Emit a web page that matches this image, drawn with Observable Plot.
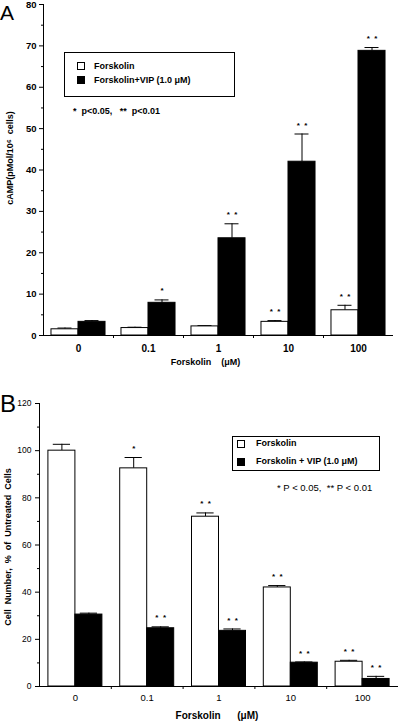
<!DOCTYPE html>
<html><head><meta charset="utf-8">
<script src="https://cdn.jsdelivr.net/npm/d3@7"></script>
<script src="https://cdn.jsdelivr.net/npm/@observablehq/plot@0.6"></script>
<style>
html,body{margin:0;padding:0;background:#fff;}
#wrap{position:relative;width:400px;height:723px;overflow:hidden;font-family:"Liberation Sans",Arial,sans-serif;}
#wrap svg{position:absolute;left:0;background:transparent;}
.abs{position:absolute;white-space:pre;color:#000;line-height:1;}
.box{position:absolute;border:1px solid #000;box-sizing:border-box;background:#fff;}
.sq{position:absolute;width:8px;height:8px;box-sizing:border-box;border:1px solid #000;}
g[aria-label="x-tick-labels-a"] text{letter-spacing:3px;}
</style></head><body><div id="wrap"></div>
<script>
// ---- data ----
const concLabels = ["0", "0.1", "1", "10", "100"];
const legendA = ["Forskolin", "Forskolin+VIP (1.0 μM)"];
const legendB = ["Forskolin", "Forskolin + VIP (1.0 μM)"];
const campForskolin = [1.5, 1.8, 2.2, 3.3, 6.1];
const campForskolinSem = [0.3, 0.2, 0.2, 0.3, 1.2];
const campVip = [3.3, 7.9, 23.5, 42.0, 68.8];
const campVipSem = [0.3, 0.7, 3.5, 6.7, 0.8];
const campForskolinStars = ["", "", "", "**", "**"];
const campVipStars = ["", "*", "**", "**", "**"];
const cellForskolin = [100, 92.5, 72, 42, 10.5];
const cellForskolinSem = [2.7, 4.6, 1.6, 0.8, 0.6];
const cellVip = [30.5, 24.7, 23.6, 10.1, 3.2];
const cellVipSem = [0.6, 0.6, 0.8, 0.3, 1.1];
const cellForskolinStars = ["", "*", "**", "**", "**"];
const cellVipStars = ["", "**", "**", "**", "**"];
const campTicks = [0, 10, 20, 30, 40, 50, 60, 70, 80];
const campMinorTicks = [5, 15, 25, 35, 45, 55, 65, 75];
const cellTicks = [0, 20, 40, 60, 80, 100, 120];
const cellMinorTicks = [10, 30, 50, 70, 90, 110];
const titleA = "cAMP(pMol/10⁶  cells)";
const titleB = "Cell  Number,  %  of  Untreated  Cells";
const xTitleA = "Forskolin    (μM)";
const xTitleB = "Forskolin      (μM)";
const noteA = "*  p<0.05,   **  p<0.01";
const noteB = "* P < 0.05,  ** P < 0.01";

function makeRows(f, fs, fst, v, vs, vst) {
  const out = [];
  concLabels.forEach((c, i) => {
    out.push({i, side: 0, value: f[i], sem: fs[i], stars: fst[i]});
    out.push({i, side: 1, value: v[i], sem: vs[i], stars: vst[i]});
  });
  return out;
}

function panel(o) {
  const rows = o.rows;
  const bw = o.barW;
  const cx = d => d.side ? d.i + bw / 2 : d.i - bw / 2;
  const top = d => d.value + d.sem;
  return Plot.plot({
    width: 400, height: o.height,
    marginLeft: o.ml, marginRight: o.mr, marginTop: o.mt, marginBottom: o.mb,
    style: {fontFamily: '"Liberation Sans", Arial, sans-serif', background: "transparent", overflow: "visible"},
    x: {domain: [-0.5, 4.5]},
    y: {domain: o.yDomain},
    marks: [
      Plot.ruleX([-0.5], {y1: o.yDomain[0], y2: o.yDomain[1], stroke: "#000"}),
      Plot.axisY({ticks: o.major, tickSize: 4, tickPadding: o.tickPad, fontSize: o.yFont, fontWeight: o.yWeight, label: null, stroke: "#000", fill: "#000"}),
      Plot.axisY({ticks: o.minor, tickSize: 2, tickFormat: () => "", label: null, stroke: "#000"}),
      Plot.axisX({ticks: [0.5, 1.5, 2.5, 3.5], tickSize: 3, tickFormat: () => "", label: null, stroke: "#000"}),
      Plot.ruleX(rows, {x: cx, y1: "value", y2: top, stroke: "#000"}),
      Plot.ruleY(rows, {y: top, x1: d => cx(d) - o.cap, x2: d => cx(d) + o.cap, stroke: "#000"}),
      Plot.rectY(rows.filter(d => d.side === 0), {x1: d => d.i - bw, x2: d => d.i, y1: 0, y2: "value", fill: "#fff", stroke: "#000", strokeWidth: 1}),
      Plot.rectY(rows.filter(d => d.side === 1), {x1: d => d.i, x2: d => d.i + bw, y1: 0, y2: "value", fill: "#000", stroke: "#000", strokeWidth: 1}),
      Plot.ruleY([0], {x1: -0.5, x2: 4.5, stroke: "#000"}),
      Plot.text(rows.filter(d => d.stars), {x: cx, y: top, text: d => d.stars === "**" ? "*  *" : "*", dy: o.starDy, fontSize: 8, fontWeight: "bold", fill: "#000"}),
      Plot.text(concLabels, {x: (d, i) => i, frameAnchor: "bottom", lineAnchor: "middle", dy: o.xLabDy, text: d => d, fontSize: o.xFont, fontWeight: o.xWeight, fill: "#000", ariaLabel: o.xAria}),
      Plot.text([o.yTitle], {frameAnchor: "left", textAnchor: "middle", lineAnchor: "middle", dx: o.yTitleDx, dy: o.yTitleDy, rotate: -90, text: d => d, fontSize: o.yTitleFont, fontWeight: "bold", fill: "#000"}),
      Plot.text([o.xTitle], {frameAnchor: "bottom", textAnchor: "middle", lineAnchor: "middle", dx: o.xTitleDx, dy: o.xTitleDy, text: d => d, fontSize: o.xTitleFont, fontWeight: "bold", fill: "#000"})
    ]
  });
}

const wrap = document.getElementById("wrap");

const svgA = panel({
  rows: makeRows(campForskolin, campForskolinSem, campForskolinStars, campVip, campVipSem, campVipStars),
  height: 372, ml: 43, mr: 7, mt: 4, mb: 37,
  yDomain: [0, 80], major: campTicks, minor: campMinorTicks,
  barW: 0.386, cap: 0.1, starDy: -9, tickPad: 3,
  yFont: 9.5, yWeight: "bold", xFont: 10, xWeight: "bold", xLabDy: 13, xAria: "x-tick-labels-a",
  yTitle: titleA, yTitleDx: -33, yTitleDy: -12, yTitleFont: 9,
  xTitle: xTitleA, xTitleDx: -13, xTitleDy: 27, xTitleFont: 9
});
svgA.style.top = "0px";
wrap.appendChild(svgA);

const svgB = panel({
  rows: makeRows(cellForskolin, cellForskolinSem, cellForskolinStars, cellVip, cellVipSem, cellVipStars),
  height: 351, ml: 39, mr: 2, mt: 31, mb: 37,
  yDomain: [0, 120], major: cellTicks, minor: cellMinorTicks,
  barW: 0.376, cap: 0.12, starDy: -9, tickPad: 4,
  yFont: 8.5, yWeight: "normal", xFont: 9.5, xWeight: "normal", xLabDy: 11, xAria: "x-tick-labels-b",
  yTitle: titleB, yTitleDx: -31, yTitleDy: 2, yTitleFont: 9,
  xTitle: xTitleB, xTitleDx: -2, xTitleDy: 29, xTitleFont: 10
});
svgB.style.top = "372px";
wrap.appendChild(svgB);

function add(html, cls, css) {
  const d = document.createElement("div");
  d.className = cls;
  Object.assign(d.style, css);
  d.textContent = html;
  wrap.appendChild(d);
  return d;
}
// panel letters
add("A", "abs", {left: "0px", top: "2px", fontSize: "21px"});
add("B", "abs", {left: "0px", top: "392px", fontSize: "24px"});
// legend A
add("", "box", {left: "64px", top: "52px", width: "171px", height: "45px"});
add("", "sq", {left: "77px", top: "62px", background: "#fff"});
add("", "sq", {left: "77px", top: "76px", background: "#000"});
add(legendA[0], "abs", {left: "94px", top: "62px", fontSize: "9px", fontWeight: "bold"});
add(legendA[1], "abs", {left: "94px", top: "76px", fontSize: "9px", fontWeight: "bold"});
add(noteA, "abs", {left: "73px", top: "107px", fontSize: "9px", fontWeight: "bold"});
// legend B
add("", "box", {left: "232px", top: "436px", width: "148px", height: "35px"});
add("", "sq", {left: "237px", top: "440px", background: "#fff"});
add("", "sq", {left: "237px", top: "458px", background: "#000"});
add(legendB[0], "abs", {left: "256px", top: "439px", fontSize: "9px", fontWeight: "bold"});
add(legendB[1], "abs", {left: "256px", top: "457px", fontSize: "9px", fontWeight: "bold"});
add(noteB, "abs", {left: "277px", top: "483px", fontSize: "9.5px"});
</script></body></html>
